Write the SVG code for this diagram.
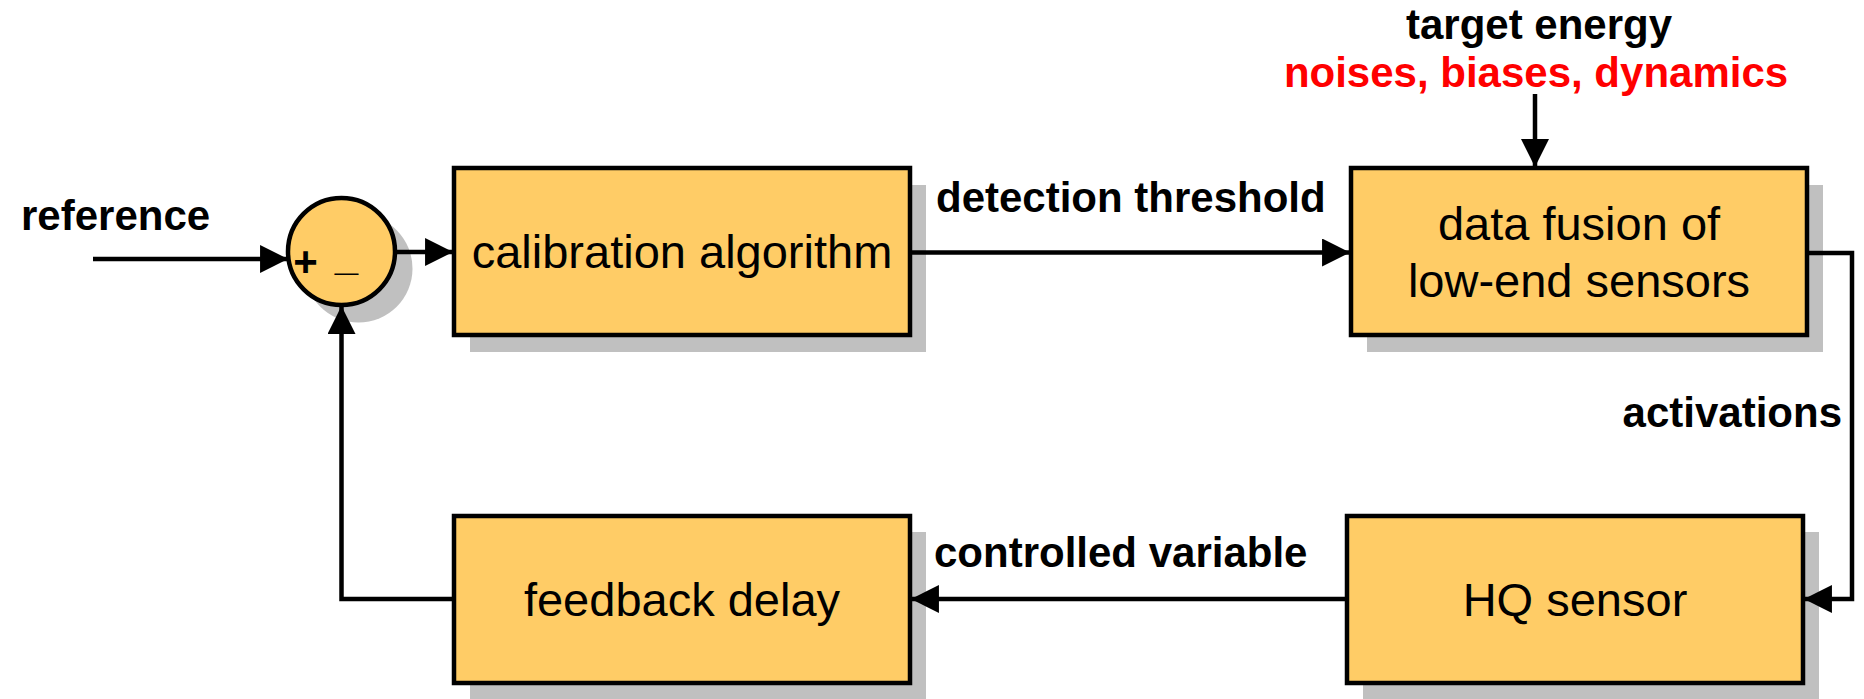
<svg xmlns="http://www.w3.org/2000/svg" width="1864" height="699" viewBox="0 0 1864 699">
<style>
.box{fill:#FFCC66;stroke:#000;stroke-width:4.5}
.shadow{fill:#C0C0C0;stroke:none}
.node{font-family:"Liberation Sans",Arial,sans-serif;font-size:47px;fill:#000;text-anchor:middle}
.lbl{font-family:"Liberation Sans",Arial,sans-serif;font-size:42px;font-weight:bold;fill:#000}
.red{fill:#FF0000}
.wire{fill:none;stroke:#000;stroke-width:4.5}
</style>
<defs>
<marker id="ah" markerUnits="userSpaceOnUse" markerWidth="28" markerHeight="28" viewBox="0 0 26 26" refX="25" refY="13" orient="auto">
<path d="M0,0 L26,13 L0,26 Z" fill="#000"/>
</marker>
</defs>
<rect width="1864" height="699" fill="#fff"/>

<g id="sum">
<circle class="shadow" cx="358.5" cy="268.5" r="54"/>
<circle class="box" cx="341.5" cy="251.5" r="53.5"/>
<text class="lbl" x="305.5" y="276" text-anchor="middle">+</text>
<text class="lbl" x="346.5" y="270" text-anchor="middle">_</text>
</g>

<g id="calibration">
<rect class="shadow" x="470" y="185" width="456" height="167"/>
<rect class="box" x="454" y="168" width="456" height="167"/>
<text class="node" x="682" y="268">calibration algorithm</text>
</g>

<g id="fusion">
<rect class="shadow" x="1367" y="185" width="456" height="167"/>
<rect class="box" x="1351" y="168" width="456" height="167"/>
<text class="node" x="1579" y="240">data fusion of</text>
<text class="node" x="1579" y="297">low-end sensors</text>
</g>

<g id="hq">
<rect class="shadow" x="1363" y="532" width="456" height="167"/>
<rect class="box" x="1347" y="516" width="456" height="167"/>
<text class="node" x="1575" y="616">HQ sensor</text>
</g>

<g id="feedback">
<rect class="shadow" x="470" y="532" width="456" height="167"/>
<rect class="box" x="454" y="516" width="456" height="167"/>
<text class="node" x="682" y="616">feedback delay</text>
</g>

<g id="connectors">
<path class="wire" d="M93,259 H287" marker-end="url(#ah)"/>
<path class="wire" d="M395,252 H452" marker-end="url(#ah)"/>
<path class="wire" d="M910,252.5 H1349" marker-end="url(#ah)"/>
<path class="wire" d="M1535,94 V166" marker-end="url(#ah)"/>
<path class="wire" d="M1807,253 H1852 V599 H1805" marker-end="url(#ah)"/>
<path class="wire" d="M1347,599 H912" marker-end="url(#ah)"/>
<path class="wire" d="M454,599 H341.5 V307" marker-end="url(#ah)"/>
</g>

<g id="labels">
<text class="lbl" x="21" y="230">reference</text>
<text class="lbl" x="936" y="212">detection threshold</text>
<text class="lbl" x="1539" y="39" text-anchor="middle">target energy</text>
<text class="lbl red" x="1536" y="87" text-anchor="middle">noises, biases, dynamics</text>
<text class="lbl" x="1842" y="427" text-anchor="end">activations</text>
<text class="lbl" x="934" y="567">controlled variable</text>
</g>
</svg>
